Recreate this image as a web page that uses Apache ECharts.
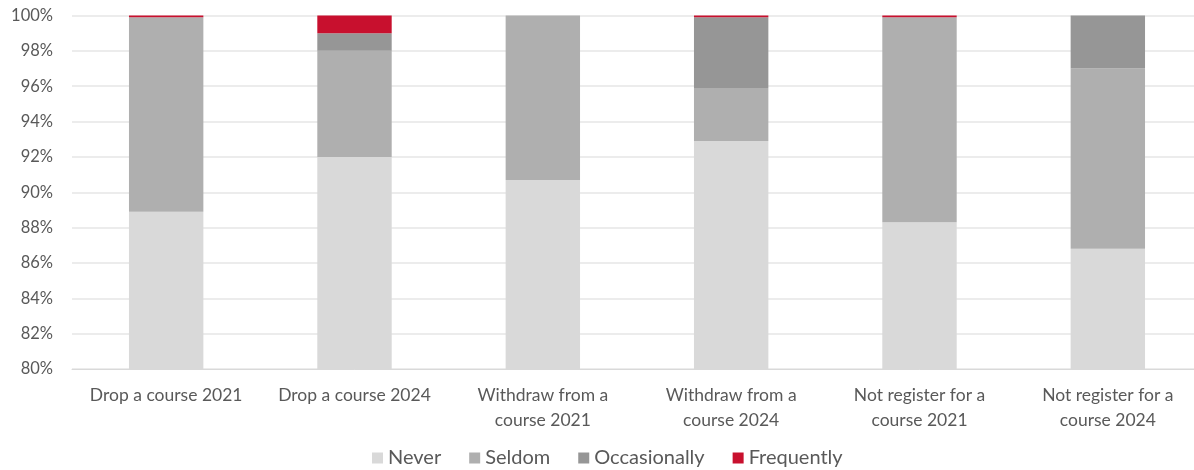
<!DOCTYPE html>
<html>
<head>
<meta charset="utf-8">
<script src="https://cdn.jsdelivr.net/npm/echarts@6/dist/echarts.min.js"></script>
<style>
  html, body { margin: 0; padding: 0; background: #fff; overflow: hidden; }
  #chart { width: 1202px; height: 470px; }
</style>
</head>
<body>
<div id="chart"></div>
<script>
// Survey responses by action and year (percent of respondents)
const categories = [
  'Drop a course 2021',
  'Drop a course 2024',
  'Withdraw from a\ncourse 2021',
  'Withdraw from a\ncourse 2024',
  'Not register for a\ncourse 2021',
  'Not register for a\ncourse 2024'
];
const never        = [88.9, 92.0, 90.7, 92.9, 88.3, 86.8];
const seldom       = [11.0,  6.0,  9.3,  3.0, 11.6, 10.2];
const occasionally = [ 0.0,  1.0,  0.0,  4.0,  0.0,  3.0];
const frequently   = [ 0.1,  1.0,  0.0,  0.1,  0.1,  0.0];
const yTicks = { min: 80, max: 100, step: 2 };

const seriesDefs = [
  { name: 'Never',        data: never,        color: '#d9d9d9' },
  { name: 'Seldom',       data: seldom,       color: '#afafaf' },
  { name: 'Occasionally', data: occasionally, color: '#969696' },
  { name: 'Frequently',   data: frequently,   color: '#c8102e' }
];

const font = 'Lato, "Open Sans", sans-serif';
const chart = echarts.init(document.getElementById('chart'));
chart.setOption({
  animation: false,
  textStyle: { fontFamily: font },
  // the chart canvas is a little wider than the page, so the plot runs to the edge
  grid: { left: 72, right: 0, top: 15.5, bottom: 101, containLabel: false },
  legend: {
    top: 443,
    left: 367,
    icon: 'rect',
    itemWidth: 11,
    itemHeight: 11,
    itemGap: 28,
    textStyle: { color: '#595959', fontSize: 20, fontFamily: font },
    data: seriesDefs.map(s => s.name)
  },
  xAxis: {
    type: 'category',
    data: categories,
    axisLine: { lineStyle: { color: '#d9d9d9' } },
    axisTick: { show: false },
    axisLabel: {
      color: '#595959', fontSize: 17.5, fontFamily: font,
      margin: 14, lineHeight: 25, interval: 0
    }
  },
  yAxis: {
    type: 'value',
    min: yTicks.min,
    max: yTicks.max,
    interval: yTicks.step,
    axisLine: { show: false },
    axisTick: { show: false },
    splitLine: { lineStyle: { color: '#e6e6e6', width: 1.5 } },
    axisLabel: {
      color: '#595959', fontSize: 16.5, fontFamily: font, margin: 19,
      formatter: v => v + '%'
    }
  },
  series: seriesDefs.map(s => ({
    name: s.name,
    type: 'bar',
    stack: 'total',
    barWidth: '39.5%',
    itemStyle: { color: s.color },
    data: s.data
  }))
});
</script>
</body>
</html>
